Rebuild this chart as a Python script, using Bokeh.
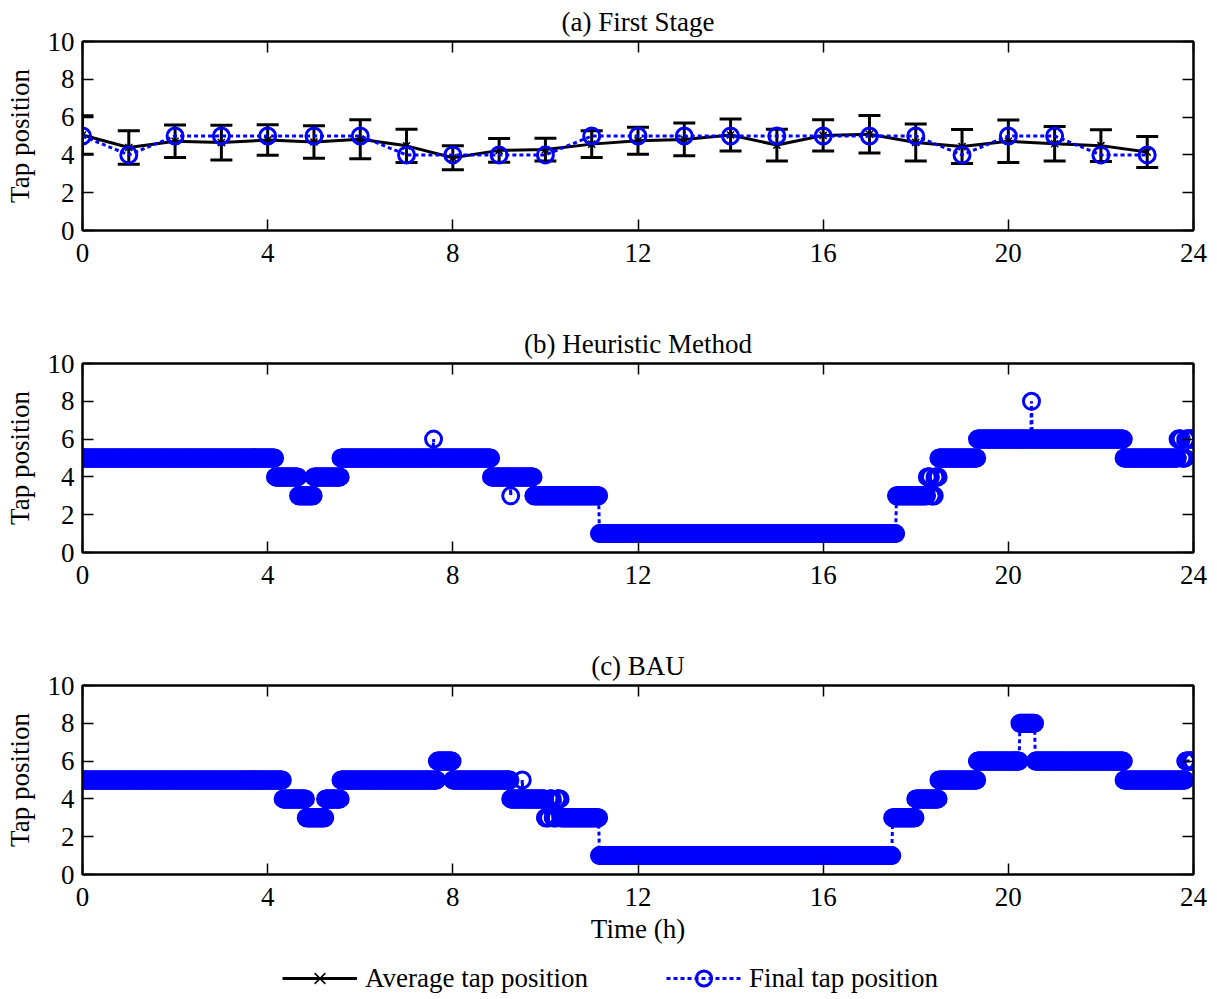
import numpy as np
from bokeh.plotting import figure
from bokeh.models import (ColumnDataSource, Whisker, TeeHead, LinearAxis,
                          FixedTicker, Range1d, Legend, LegendItem)
from bokeh.layouts import column
from bokeh.embed import file_html
from bokeh.resources import INLINE

# ---------------- data ----------------
hours = list(range(24))
avg_tap = [5.05, 4.39, 4.72, 4.65, 4.79, 4.68, 4.83, 4.48, 3.85, 4.24, 4.28, 4.57,
           4.75, 4.82, 5.05, 4.52, 5.03, 5.09, 4.66, 4.44, 4.72, 4.59, 4.49, 4.15]
std_tap = [1.02, 0.89, 0.86, 0.92, 0.81, 0.86, 1.03, 0.88, 0.63, 0.63, 0.60, 0.71,
           0.71, 0.87, 0.85, 0.84, 0.83, 0.99, 0.98, 0.90, 1.12, 0.91, 0.84, 0.82]
final_hourly = [5, 4, 5, 5, 5, 5, 5, 4, 4, 4, 4, 5, 5, 5, 5, 5, 5, 5, 5, 4, 5, 5, 4, 4]

# 1-minute resolution tap positions, stored as runs (level, duration in minutes)
step_minutes = 1
heur_levels = [5, 4, 3, 4, 5, 6, 5, 4, 3, 4, 3, 1, 3, 4, 3, 4, 5, 6, 8, 6, 5, 6, 5, 6]
heur_minutes = [250, 30, 20, 35, 120, 1, 74, 25, 1, 29, 85, 385, 40, 5, 5, 5, 50, 70,
                1, 119, 70, 5, 5, 10]
bau_levels = [5, 4, 3, 4, 5, 6, 5, 4, 5, 4, 3, 4, 3, 4, 3, 1, 3, 4, 5, 6, 8, 6, 5, 6]
bau_minutes = [260, 30, 25, 20, 125, 20, 75, 15, 1, 29, 5, 5, 5, 5, 50, 380, 30, 30,
               50, 55, 20, 115, 80, 10]

x_ticks = [0, 4, 8, 12, 16, 20, 24]
y_ticks = [0, 2, 4, 6, 8, 10]

FONT = "Liberation Serif"
FS = "27px"
BLUE = "#0000ff"


def expand(levels, counts):
    vals = np.repeat(np.array(levels, dtype=float), counts)
    t = np.arange(len(vals)) * step_minutes / 60.0
    return t, vals


def make_fig(title, bottom, xlabel=None):
    p = figure(frame_width=1111, frame_height=189,
               x_range=Range1d(0, 24), y_range=Range1d(0, 10),
               output_backend="svg", toolbar_location=None,
               min_border_left=82, min_border_right=24,
               min_border_top=41, min_border_bottom=bottom)
    p.title.text = title
    p.title.align = "center"
    p.title.text_font = FONT
    p.title.text_font_size = FS
    p.title.text_font_style = "normal"
    p.title.text_color = "black"
    p.title.standoff = 9
    p.grid.visible = False
    p.outline_line_color = "black"
    p.outline_line_width = 2
    p.xaxis.ticker = FixedTicker(ticks=x_ticks)
    p.yaxis.ticker = FixedTicker(ticks=y_ticks)
    for ax in p.xaxis + p.yaxis:
        ax.major_tick_in = 11
        ax.major_tick_out = 0
        ax.minor_tick_line_color = None
        ax.axis_line_width = 2
        ax.axis_line_color = "black"
        ax.major_tick_line_color = "black"
        ax.major_tick_line_width = 1.5
        ax.major_label_text_font = FONT
        ax.major_label_text_font_size = FS
        ax.major_label_text_color = "black"
    p.xaxis.major_label_standoff = 13
    p.yaxis.major_label_standoff = 8
    p.yaxis.axis_label = "Tap position"
    p.yaxis.axis_label_text_font = FONT
    p.yaxis.axis_label_text_font_size = FS
    p.yaxis.axis_label_text_font_style = "normal"
    p.yaxis.axis_label_text_color = "black"
    p.yaxis.axis_label_standoff = 10
    if xlabel:
        p.xaxis.axis_label = xlabel
        p.xaxis.axis_label_text_font = FONT
        p.xaxis.axis_label_text_font_size = FS
        p.xaxis.axis_label_text_font_style = "normal"
        p.xaxis.axis_label_text_color = "black"
        p.xaxis.axis_label_standoff = 5
    # mirrored box ticks (no labels)
    top = LinearAxis(ticker=FixedTicker(ticks=x_ticks),
                     major_label_overrides={t: "" for t in x_ticks})
    right = LinearAxis(ticker=FixedTicker(ticks=y_ticks),
                       major_label_overrides={t: "" for t in y_ticks})
    for ax in (top, right):
        ax.major_tick_in = 11
        ax.major_tick_out = 0
        ax.minor_tick_line_color = None
        ax.axis_line_width = 2
        ax.major_tick_line_width = 1.5
        ax.major_tick_line_color = "black"
        ax.major_label_text_font_size = "0px"
        ax.major_label_standoff = 0
    p.add_layout(top, "above")
    p.add_layout(right, "right")
    return p


# ---------------- (a) First Stage ----------------
p1 = make_fig("(a) First Stage", bottom=92)
lower = [a - s for a, s in zip(avg_tap, std_tap)]
upper = [a + s for a, s in zip(avg_tap, std_tap)]
src_a = ColumnDataSource(data=dict(x=hours, avg=avg_tap, lower=lower, upper=upper,
                                   final=final_hourly))
p1.add_layout(Whisker(source=src_a, base="x", lower="lower", upper="upper",
                      line_color="black", line_width=3,
                      upper_head=TeeHead(size=22, line_width=3, line_color="black"),
                      lower_head=TeeHead(size=22, line_width=3, line_color="black")))
p1.line("x", "avg", source=src_a, line_color="black", line_width=3)
p1.scatter("x", "avg", source=src_a, marker="x", size=10, line_color="black", line_width=1.5)
p1.line("x", "final", source=src_a, line_color=BLUE, line_width=3, line_dash="4 3")
p1.scatter("x", "final", source=src_a, marker="circle", size=16, fill_alpha=0,
           line_color=BLUE, line_width=3)

# ---------------- (b) Heuristic ----------------
p2 = make_fig("(b) Heuristic Method", bottom=92)
tb, vb = expand(heur_levels, heur_minutes)
src_b = ColumnDataSource(data=dict(t=tb, v=vb))
p2.line("t", "v", source=src_b, line_color=BLUE, line_width=3, line_dash="4 3")
p2.scatter("t", "v", source=src_b, marker="circle", size=16, fill_alpha=0,
           line_color=BLUE, line_width=3)

# ---------------- (c) BAU ----------------
p3 = make_fig("(c) BAU", bottom=79, xlabel="Time (h)")
tc, vc = expand(bau_levels, bau_minutes)
src_c = ColumnDataSource(data=dict(t=tc, v=vc))
p3.line("t", "v", source=src_c, line_color=BLUE, line_width=3, line_dash="4 3")
p3.scatter("t", "v", source=src_c, marker="circle", size=16, fill_alpha=0,
           line_color=BLUE, line_width=3)

# ---------------- legend strip ----------------
pl = figure(frame_width=1217, frame_height=46, x_axis_type=None, y_axis_type=None,
            x_range=Range1d(0, 1), y_range=Range1d(0, 1),
            output_backend="svg", toolbar_location=None,
            min_border_left=0, min_border_right=0, min_border_top=0, min_border_bottom=0)
pl.outline_line_color = None
pl.grid.visible = False
# placeholder (NaN) sources: the legend needs a non-empty renderer to draw its glyphs
ph = ColumnDataSource(data=dict(x=np.array([np.nan]), y=np.array([np.nan])))
r_al = pl.line("x", "y", source=ph, line_color="black", line_width=3)
r_am = pl.scatter("x", "y", source=ph, marker="x", size=10, line_color="black",
                  line_width=1.5)
r_fl = pl.line("x", "y", source=ph, line_color=BLUE, line_width=3, line_dash="4 3")
r_fm = pl.scatter("x", "y", source=ph, marker="circle", size=16, fill_alpha=0,
                  line_color=BLUE, line_width=3)
legend = Legend(items=[LegendItem(label="Average tap position", renderers=[r_al, r_am]),
                       LegendItem(label="Final tap position", renderers=[r_fl, r_fm])],
                orientation="horizontal", location=(282, 2),
                glyph_width=75, glyph_height=38, spacing=78, label_standoff=8,
                label_text_font=FONT, label_text_font_size=FS,
                label_text_color="black",
                border_line_alpha=0, background_fill_alpha=0,
                margin=0, padding=0)
pl.add_layout(legend, "center")

layout = column(p1, p2, p3, pl, spacing=0)
open("out.html", "w").write(file_html(layout, INLINE))
